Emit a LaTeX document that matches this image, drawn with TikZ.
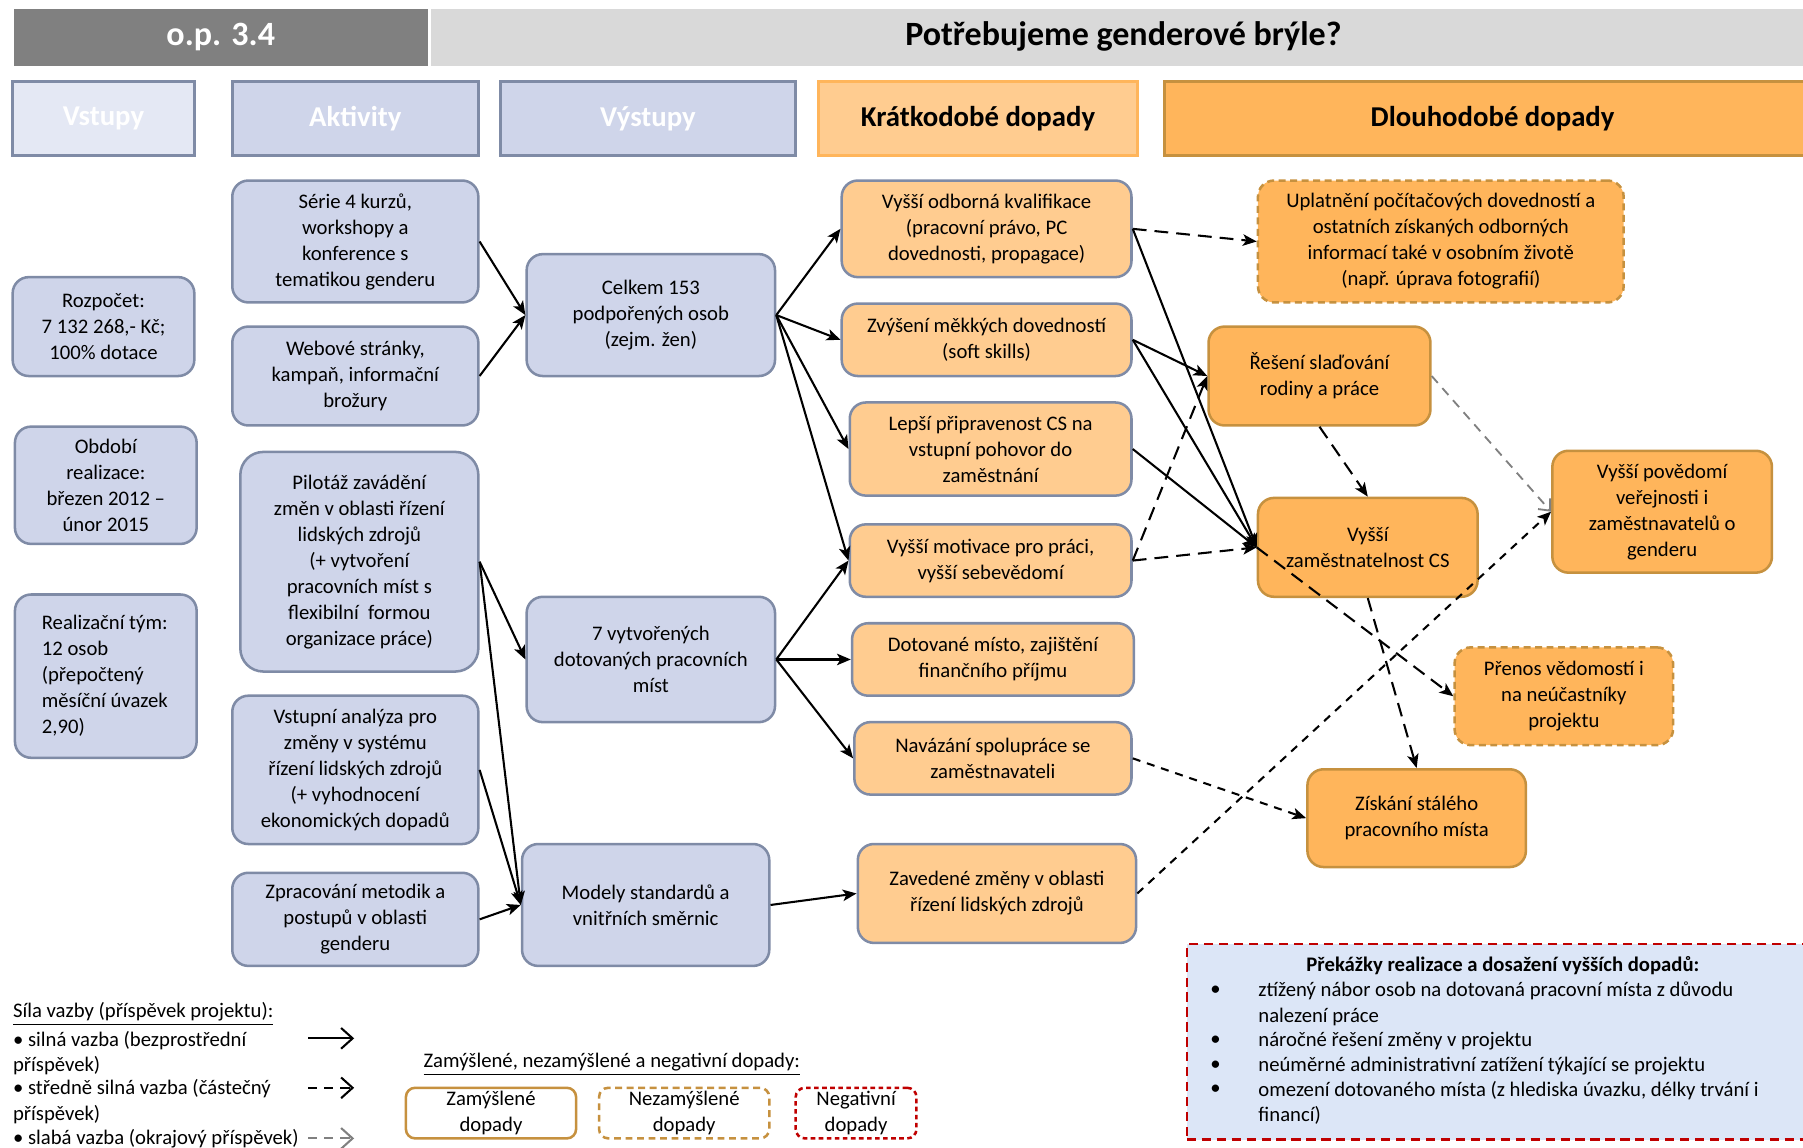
\documentclass[tikz,border=0pt]{standalone}
\usepackage{fontspec}
\setmainfont{Carlito}
\usetikzlibrary{arrows.meta}
\definecolor{bfill}{HTML}{CFD5EA}
\definecolor{bfilll}{HTML}{E4E8F4}
\definecolor{bborder}{HTML}{7F8BA6}
\definecolor{olight}{HTML}{FFCC90}
\definecolor{odark}{HTML}{FFB55B}
\definecolor{obrown}{HTML}{C6913F}
\definecolor{darkbar}{HTML}{808080}
\definecolor{lightbar}{HTML}{D9D9D9}
\definecolor{obsfill}{HTML}{DCE6F7}
\definecolor{obsred}{HTML}{C00000}
\begin{document}
\begin{tikzpicture}[x=0.5pt,y=-0.5pt,
  font=\fontsize{9}{11.3}\selectfont,
  sz/.style 2 args={minimum width={#1*0.5pt}, minimum height={#2*0.5pt}},
  box/.style={draw=bborder, line width=1.1pt, rounded corners=7pt, align=center, inner sep=1pt},
  inb/.style={box, fill=bfill},
  kb/.style={box, fill=olight},
  db/.style={box, fill=odark, draw=obrown},
  ddb/.style={db, dash pattern=on 3pt off 2pt},
  hdr/.style={draw=bborder, line width=1.3pt, fill=bfill, text=white, font=\fontsize{12.5}{14}\selectfont\bfseries},
  bar/.style={inner sep=0pt, font=\fontsize{14.8}{16}\selectfont\bfseries},
  arr/.style={-{Stealth[length=6pt,width=5pt,inset=1.5pt]}, line width=0.9pt},
  darr/.style={arr, dash pattern=on 6pt off 3.5pt},
  sdarr/.style={arr, dash pattern=on 3.5pt off 3pt},
  garr/.style={-{Straight Barb[length=4pt,width=7pt]}, line width=0.8pt, gray, dash pattern=on 4pt off 3pt},
  txt/.style={inner sep=0pt, anchor=west},
  lgb/.style={line width=1.1pt, rounded corners=4pt, align=center, inner sep=0pt, fill=white}
]
\useasboundingbox (0,0) rectangle (1568,998);

% title bars
\node[bar, fill=darkbar, text=white, sz={360}{49}] (tl) at (192,32.5) {o.p. 3.4};
\node[bar, fill=lightbar, sz={1196}{49}] (tr) at (973,32.5) {};
\node[bar] (ttitle) at (977,32) {Potřebujeme genderové brýle?};

% headers
\node[hdr, fill=bfilll, sz={158}{64}] (h1) at (90,103) {Vstupy};
\node[hdr, sz={214}{64}] (h2) at (309,103) {Aktivity};
\node[hdr, sz={257}{64}] (h3) at (563.5,103) {Výstupy};
\node[hdr, fill=olight, draw=odark, text=black, sz={277}{64}] (h4) at (850.5,103) {Krátkodobé dopady};
\node[hdr, fill=odark, draw=obrown, text=black, sz={564}{64}, anchor=west] (h5) at (1011,103) {};
\node[font=\fontsize{12.5}{14}\selectfont\bfseries] (h5t) at (1298,103) {Dlouhodobé dopady};

% inputs
\node[inb, sz={158}{86}] (in1) at (90,284) {Rozpočet:\\7 132 268,- Kč;\\100\% dotace};
\node[inb, sz={158}{102}] (in2) at (92,422) {Období\\realizace:\\březen 2012 –\\únor 2015};
\node[inb, sz={158}{142}] (in3) at (92,588) {};
\node[align=left, inner sep=0pt, anchor=west] (in3t) at (36,588) {Realizační tým:\\12 osob\\(přepočtený\\měsíční úvazek\\2,90)};

% activities
\node[inb, sz={214}{106}] (a1) at (309,210) {Série 4 kurzů,\\workshopy a\\konference s\\tematikou genderu};
\node[inb, sz={214}{86}] (a2) at (309,327) {Webové stránky,\\kampaň, informační\\brožury};
\node[inb, sz={207}{191}, rounded corners=10pt] (a3) at (312.5,488.5) {Pilotáž zavádění\\změn v oblasti řízení\\lidských zdrojů\\ (+ vytvoření\\pracovních míst s\\flexibilní\ \ formou\\organizace práce)};
\node[inb, sz={214}{129}] (a4) at (309,669.5) {Vstupní analýza pro\\změny v systému\\řízení lidských zdrojů\\(+ vyhodnocení\\ekonomických dopadů};
\node[inb, sz={214}{81}] (a5) at (309,799.5) {Zpracování metodik a\\postupů v oblasti\\genderu};

% outputs
\node[inb, sz={216}{106}] (v1) at (566,274) {Celkem 153\\podpořených osob\\(zejm. žen)};
\node[inb, sz={216}{109}] (v2) at (566,573.5) {7 vytvořených\\dotovaných pracovních\\míst};
\node[inb, sz={215}{106}] (v3) at (561.5,787) {Modely standardů a\\vnitřních směrnic};

% short-term
\node[kb, sz={252}{84}] (k1) at (858,199) {Vyšší odborná kvalifikace\\(pracovní právo, PC\\dovednosti, propagace)};
\node[kb, sz={252}{63}] (k2) at (858,295.5) {Zvýšení měkkých dovedností\\(soft skills)};
\node[kb, sz={245}{81}] (k3) at (861.5,390.5) {Lepší připravenost CS na\\vstupní pohovor do\\zaměstnání};
\node[kb, sz={245}{63}] (k4) at (861.5,487.5) {Vyšší motivace pro práci,\\vyšší sebevědomí};
\node[kb, sz={245}{63}] (k5) at (863.5,573.5) {Dotované místo, zajištění\\finančního příjmu};
\node[kb, sz={241}{63}] (k6) at (863.5,659.5) {Navázání spolupráce se\\zaměstnavateli};
\node[kb, sz={242}{86}] (k7) at (867,777) {Zavedené změny v oblasti\\řízení lidských zdrojů};

% long-term
\node[ddb, sz={318}{106}] (d1) at (1253,210) {Uplatnění počítačových dovedností a\\ostatních získaných odborných\\informací také v osobním životě\\(např. úprava fotografií)};
\node[db, sz={193}{86}] (d2) at (1147.5,327) {Řešení slaďování\\rodiny a práce};
\node[db, sz={191}{86}] (d3) at (1189.5,476) {Vyšší\\zaměstnatelnost CS};
\node[db, sz={191}{106}] (d4) at (1445.5,445) {Vyšší povědomí\\veřejnosti i\\zaměstnavatelů o\\genderu};
\node[ddb, sz={190}{85}] (d5) at (1360,605.5) {Přenos vědomostí i\\na neúčastníky\\projektu};
\node[db, sz={190}{85}] (d6) at (1232,711.5) {Získání stálého\\pracovního místa};

% connectors
\draw[arr] (a1.east) -- (v1.west);
\draw[arr] (a2.east) -- (v1.west);
\draw[arr] (a3.east) -- (v2.west);
\draw[arr] (a3.east) -- (v3.west);
\draw[arr] (a4.east) -- (v3.west);
\draw[arr] (a5.east) -- (v3.west);
\draw[arr] (v1.east) -- (k1.west);
\draw[arr] (v1.east) -- (k2.west);
\draw[arr] (v1.east) -- (k3.west);
\draw[arr] (v1.east) -- (k4.west);
\draw[arr] (v2.east) -- (k4.west);
\draw[arr] (v2.east) -- (k5.west);
\draw[arr] (v2.east) -- (k6.west);
\draw[arr] (v3.east) -- (k7.west);
\draw[darr] (k1.east) -- (d1.west);
\draw[arr] (k1.east) -- (d3.west);
\draw[arr] (k2.east) -- (d2.west);
\draw[arr] (k2.east) -- (d3.west);
\draw[arr] (k3.east) -- (d3.west);
\draw[darr] (k4.east) -- (d3.west);
\draw[darr] (k4.east) -- (d2.west);
\draw[darr] (d2.south) -- (d3.north);
\draw[garr] (d2.east) -- (d4.west);
\draw[darr] (d3.west) -- (d5.west);
\draw[darr] (d3.south) -- (d6.north);
\draw[sdarr] (k6.east) -- (d6.west);
\draw[sdarr] (k7.east) -- (d4.west);

% obstacles
\node[draw=obsred, fill=obsfill, line width=1.1pt, dash pattern=on 4pt off 2.5pt, sz={544}{170}, anchor=north west, inner sep=0pt] (obs) at (1031,820) {};
\node[font=\fontsize{9}{11}\selectfont\bfseries, inner sep=0pt] (obst) at (1307,840) {Překážky realizace a dosažení vyšších dopadů:};
\node[inner sep=0pt] (ob1) at (1057,862) {•};
\node[inner sep=0pt] (ob2) at (1057,905) {•};
\node[inner sep=0pt] (ob3) at (1057,927) {•};
\node[inner sep=0pt] (ob4) at (1057,948) {•};
\node[txt] (ot1) at (1094,862) {ztížený nábor osob na dotovaná pracovní místa z důvodu};
\node[txt] (ot1b) at (1094,884) {nalezení práce};
\node[txt] (ot2) at (1094,905) {náročné řešení změny v projektu};
\node[txt] (ot3) at (1094,927) {neúměrné administrativní zatížení týkající se projektu};
\node[txt] (ot4) at (1094,948) {omezení dotovaného místa (z hlediska úvazku, délky trvání i};
\node[txt] (ot4b) at (1094,970) {financí)};

% legend: link strength
\node[txt] (lg0) at (11,882) {\underline{Síla vazby (příspěvek projektu):}};
\node[txt] (lg1) at (11,905) {• silná vazba (bezprostřední};
\node[txt] (lg1b) at (11,927) {příspěvek)};
\node[txt] (lg2) at (11,947) {• středně silná vazba (částečný};
\node[txt] (lg2b) at (11,969) {příspěvek)};
\node[txt] (lg3) at (11,990) {• slabá vazba (okrajový příspěvek)};
\coordinate (la1) at (268,903); \coordinate (lb1) at (308,903);
\coordinate (la2) at (268,946); \coordinate (lb2) at (308,946);
\coordinate (la3) at (268,990); \coordinate (lb3) at (308,990);
\draw[-{Straight Barb[length=5pt,width=9pt]}, line width=0.9pt] (la1) -- (lb1);
\draw[-{Straight Barb[length=5pt,width=9pt]}, line width=0.9pt, dash pattern=on 4pt off 3pt] (la2) -- (lb2);
\draw[-{Straight Barb[length=5pt,width=9pt]}, line width=0.9pt, gray, dash pattern=on 4pt off 3pt] (la3) -- (lb3);

% legend: impact types
\node[txt] (lz) at (368,926) {\underline{Zamýšlené, nezamýšlené a negativní dopady:}};
\node[lgb, draw=obrown, sz={148}{44}] (lz1) at (427,968) {Zamýšlené\\dopady};
\node[lgb, draw=obrown, dash pattern=on 3pt off 2pt, sz={148}{44}] (lz2) at (595,968) {Nezamýšlené\\dopady};
\node[lgb, draw=obsred, dash pattern=on 2pt off 1.5pt, sz={105}{44}] (lz3) at (744.5,968) {Negativní\\dopady};
\end{tikzpicture}
\end{document}
